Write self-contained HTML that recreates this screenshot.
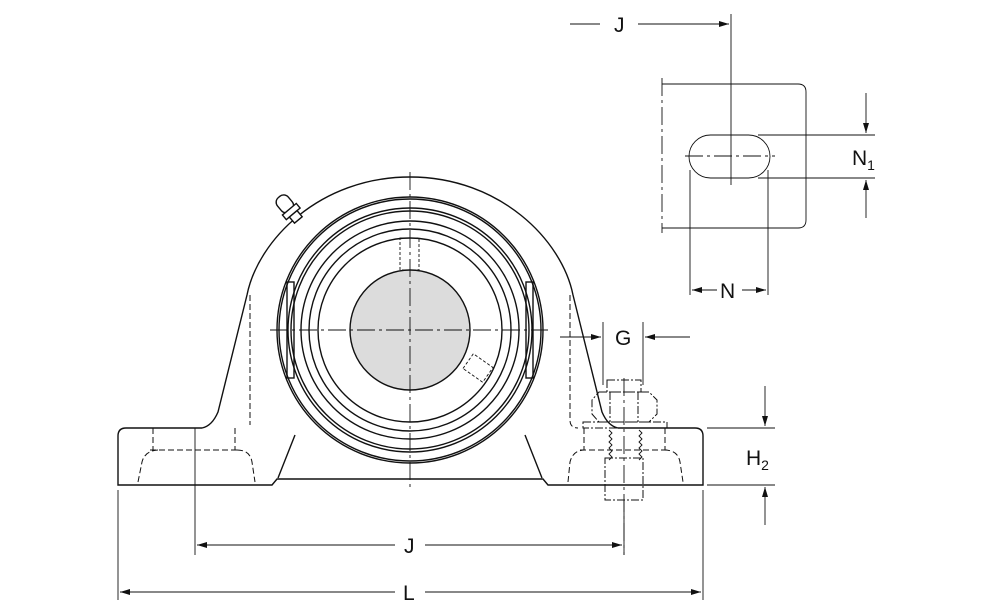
<!DOCTYPE html>
<html><head><meta charset="utf-8"><style>
html,body{margin:0;padding:0;background:#fff;width:1000px;height:611px;overflow:hidden}
svg{display:block}
text{font-family:"Liberation Sans","DejaVu Sans",sans-serif;fill:#111}
</style></head><body>
<svg width="1000" height="611" viewBox="0 0 1000 611" xmlns="http://www.w3.org/2000/svg">
<defs>
<marker id="a" viewBox="0 0 10 6" refX="10" refY="3" markerWidth="14" markerHeight="6" markerUnits="userSpaceOnUse" orient="auto"><path d="M0,0 L10,3 L0,6 z" fill="#111"/></marker>
</defs>
<g fill="none" stroke="#111" stroke-width="1.4">
<path d="M118,485 L118,436 Q118,428 126,428 L202,428 Q212,426 218,412 L247,295 C258,240 320,177 410,177 C500,177 562,240 573,295 L602,412 Q608,426 618,428 L695,428 Q703,428 703,436 L703,485 L548,485 L543,479 L277,479 L272,485 Z"/>
<line x1="295" y1="435" x2="278" y2="478"/>
<line x1="525" y1="435" x2="542" y2="478"/>
<g transform="rotate(-40 290 210)">
<rect x="283" y="193" width="14" height="18" rx="6" fill="#fff"/>
<rect x="281" y="209" width="18" height="6" fill="#fff"/>
<rect x="285" y="215" width="10" height="8" fill="#fff"/>
</g>
<circle cx="410" cy="330" r="133"/>
<circle cx="410" cy="330" r="131"/>
<circle cx="410" cy="330" r="122"/>
<circle cx="410" cy="330" r="119"/>
<circle cx="410" cy="330" r="109"/>
<circle cx="410" cy="330" r="101"/>
<circle cx="410" cy="330" r="92"/>
<rect x="287" y="282" width="7" height="96"/>
<rect x="526" y="282" width="7" height="96"/>
<circle cx="410" cy="330" r="60" fill="#dcdcdc"/>
</g>
<g fill="none" stroke="#111" stroke-width="0.9" stroke-dasharray="3,2">
<rect x="400" y="238" width="19" height="32"/>
<g transform="rotate(-55 478 368)"><rect x="469" y="356" width="18" height="24"/></g>
</g>
<g fill="none" stroke="#111" stroke-width="1" stroke-dasharray="6,3">
<line x1="250" y1="295" x2="250" y2="425"/>
<path d="M570,295 L570,420 Q570,428 578,428"/>
<path d="M153,428 L153,450 M235,428 L235,450 M150,450 L240,450"/>
<path d="M138,482 L142,462 Q145,450 160,450 M237,450 Q250,450 252,462 L255,482"/>
<path d="M584,428 L584,450 M665,428 L665,450 M580,450 L670,450"/>
<path d="M568,482 L570,462 Q573,450 585,450 M664,450 Q678,450 680,462 L683,482"/>
</g>
<g fill="none" stroke="#111" stroke-width="1" stroke-dasharray="8,2,2,2">
<rect x="607" y="380" width="34" height="12"/>
<path d="M599,392 L649,392 L657,400 L657,414 L649,422 L599,422 L592,414 L592,400 Z"/>
<line x1="610" y1="392" x2="610" y2="422"/><line x1="638" y1="392" x2="638" y2="422"/>
<rect x="583" y="422" width="84" height="6"/>
<rect x="605" y="458" width="38" height="42"/>
</g>
<g fill="none" stroke="#111" stroke-width="0.9">
<path d="M609,430 l3,3 -3,3 3,3 -3,3 3,3 -3,3 3,3 -3,3 3,3 -3,3"/>
<path d="M639,430 l3,3 -3,3 3,3 -3,3 3,3 -3,3 3,3 -3,3 3,3 -3,3"/>
</g>
<g fill="none" stroke="#111" stroke-width="0.9" stroke-dasharray="18,4,3,4">
<line x1="270" y1="330" x2="548" y2="330"/>
<line x1="410" y1="172" x2="410" y2="488"/>
<line x1="624" y1="378" x2="624" y2="555"/>
<line x1="662" y1="78" x2="662" y2="233"/>
<line x1="685" y1="156" x2="775" y2="156"/>
</g>
<g fill="none" stroke="#111" stroke-width="0.9">
<line x1="118" y1="490" x2="118" y2="600"/>
<line x1="703" y1="490" x2="703" y2="600"/>
<line x1="195" y1="428" x2="195" y2="555"/>
<line x1="624" y1="500" x2="624" y2="555"/>
<line x1="395" y1="545" x2="197" y2="545" marker-end="url(#a)"/>
<line x1="425" y1="545" x2="622" y2="545" marker-end="url(#a)"/>
<line x1="395" y1="592" x2="120" y2="592" marker-end="url(#a)"/>
<line x1="425" y1="592" x2="701" y2="592" marker-end="url(#a)"/>
<line x1="707" y1="428" x2="775" y2="428"/>
<line x1="707" y1="485" x2="775" y2="485"/>
<line x1="765" y1="386" x2="765" y2="426" marker-end="url(#a)"/>
<line x1="765" y1="525" x2="765" y2="487" marker-end="url(#a)"/>
<line x1="603" y1="322" x2="603" y2="385"/>
<line x1="643" y1="322" x2="643" y2="385"/>
<line x1="560" y1="337" x2="601" y2="337" marker-end="url(#a)"/>
<line x1="690" y1="337" x2="645" y2="337" marker-end="url(#a)"/>
<path d="M662,84 L798,84 Q806,84 806,92 L806,220 Q806,228 798,228 L662,228"/>
<rect x="689" y="135" width="81" height="43" rx="21.5"/>
<line x1="731" y1="14" x2="731" y2="185"/>
<line x1="570" y1="24" x2="600" y2="24"/>
<line x1="638" y1="24" x2="729" y2="24" marker-end="url(#a)"/>
<line x1="758" y1="135" x2="875" y2="135"/>
<line x1="758" y1="178" x2="875" y2="178"/>
<line x1="866" y1="93" x2="866" y2="133" marker-end="url(#a)"/>
<line x1="866" y1="218" x2="866" y2="180" marker-end="url(#a)"/>
<line x1="690" y1="170" x2="690" y2="295"/>
<line x1="768" y1="170" x2="768" y2="295"/>
<line x1="717" y1="290" x2="692" y2="290" marker-end="url(#a)"/>
<line x1="742" y1="290" x2="766" y2="290" marker-end="url(#a)"/>
</g>
<g font-size="21">
<text x="404" y="553">J</text>
<text x="403" y="600">L</text>
<text x="614" y="32">J</text>
<text x="615" y="345">G</text>
<text x="720" y="298">N</text>
<text x="852" y="165">N<tspan font-size="14" dy="5">1</tspan></text>
<text x="746" y="465">H<tspan font-size="14" dy="5">2</tspan></text>
</g>
</svg>
</body></html>
